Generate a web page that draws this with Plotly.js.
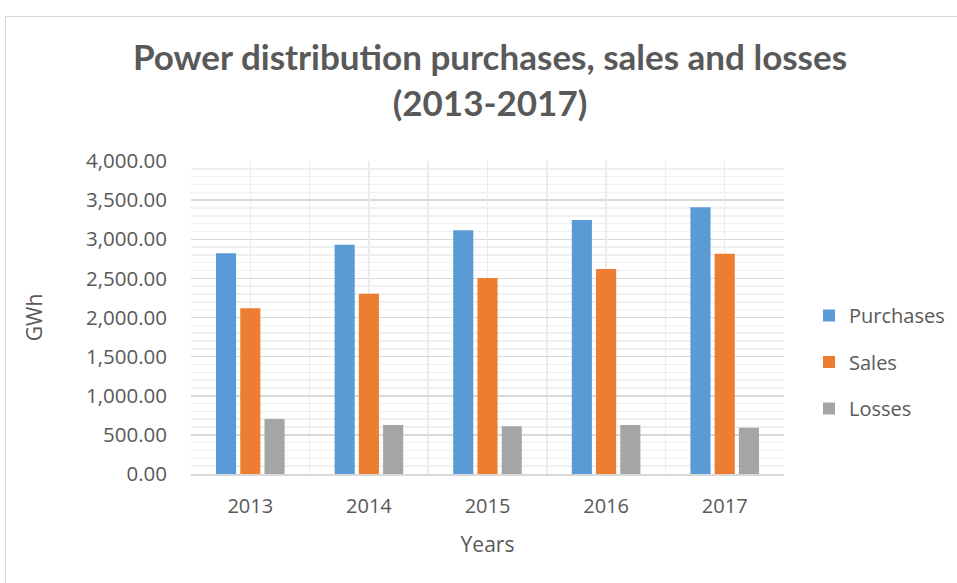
<!DOCTYPE html>
<html>
<head>
<meta charset="utf-8">
<script src="https://cdn.plot.ly/plotly-3.0.1.min.js"></script>
<style>
  html, body { margin: 0; padding: 0; background: #fff; }
  #wrap { position: relative; width: 957px; height: 583px; overflow: hidden; }
  #chart { position: absolute; left: 0; top: 0; width: 957px; height: 583px; }
  #frame { position: absolute; left: 5px; top: 16px; width: 1000px; height: 700px;
           border: 1.5px solid #d9d9d9; pointer-events: none; }
</style>
</head>
<body>
<div id="wrap">
  <div id="chart"></div>
  <div id="frame"></div>
</div>
<script>
const years = ['2013', '2014', '2015', '2016', '2017'];
const purchases = [2820, 2931, 3114, 3246, 3408];
const sales = [2117, 2305, 2505, 2620, 2816];
const losses = [703, 626, 609, 626, 592];
const seriesNames = ['Purchases', 'Sales', 'Losses'];
const seriesColors = ['#5B9BD5', '#ED7D31', '#A5A5A5'];
const yTicks = [0, 500, 1000, 1500, 2000, 2500, 3000, 3500, 4000];

const font = 'Open Sans, sans-serif';
const txt = '#595959';

const traces = [purchases, sales, losses].map((vals, i) => ({
  type: 'bar',
  name: seriesNames[i],
  x: years,
  y: vals,
  marker: { color: seriesColors[i] },
  legendgroup: 'g' + i,
  hoverinfo: 'x+y+name'
}));
// helper trace to draw the category-centre gridlines on an overlaid axis
traces.push({
  type: 'scatter', mode: 'none', x: years, y: years.map(() => null),
  xaxis: 'x2', showlegend: false, hoverinfo: 'skip'
});

const layout = {
  width: 957, height: 583,
  margin: { l: 191, r: 173, t: 161, b: 109 },
  paper_bgcolor: '#fff', plot_bgcolor: '#fff',
  font: { family: font, color: txt, size: 20 },
  title: {
    text: '<b>Power distribution purchases, sales and losses<br>(2013-2017)</b>',
    font: { family: 'Lato, sans-serif', size: 35, color: txt },
    x: 490 / 957, xref: 'container', xanchor: 'center',
    y: 1 - 70 / 583, yref: 'container', yanchor: 'top'
  },
  barmode: 'group',
  bargap: 0.387,
  bargroupgap: 0.17,
  xaxis: {
    type: 'category', categoryarray: years, range: [-0.5, 4.5],
    tickson: 'boundaries', showgrid: true, gridcolor: '#ececec', gridwidth: 1.5,
    ticks: '', ticklabelstandoff: 13,
    showline: true, linecolor: '#d9d9d9', linewidth: 1.5,
    tickfont: { family: font, size: 20, color: txt },
    title: { text: 'Years', font: { family: font, size: 21, color: txt }, standoff: 20 },
    zeroline: false, fixedrange: true
  },
  xaxis2: {
    type: 'category', categoryarray: years, range: [-0.5, 4.5],
    overlaying: 'x', showgrid: true, gridcolor: '#ececec', gridwidth: 1.5,
    showticklabels: false, ticks: '', zeroline: false, showline: false
  },
  yaxis: {
    range: [0, 4000], tickvals: yTicks, tickformat: ',.2f',
    showgrid: true, gridcolor: '#d9d9d9', gridwidth: 1.5,
    minor: { dtick: 100, showgrid: true, gridcolor: '#f0f0f0', gridwidth: 1.5, ticks: '' },
    ticks: '', ticklabelstandoff: 23, zeroline: false,
    tickfont: { family: font, size: 20.5, color: txt },
    title: { text: 'GWh', font: { family: font, size: 21, color: txt }, standoff: 37 },
    fixedrange: true
  },
  showlegend: true,
  legend: {
    x: 809 / 957, xref: 'container', xanchor: 'left',
    y: 1 - 362 / 583, yref: 'container', yanchor: 'middle',
    font: { family: font, size: 20, color: txt },
    traceorder: 'grouped', tracegroupgap: 17.5,
    itemwidth: 30, bgcolor: 'rgba(0,0,0,0)'
  }
};

Plotly.newPlot('chart', traces, layout, { displayModeBar: false, staticPlot: true });
</script>
</body>
</html>
